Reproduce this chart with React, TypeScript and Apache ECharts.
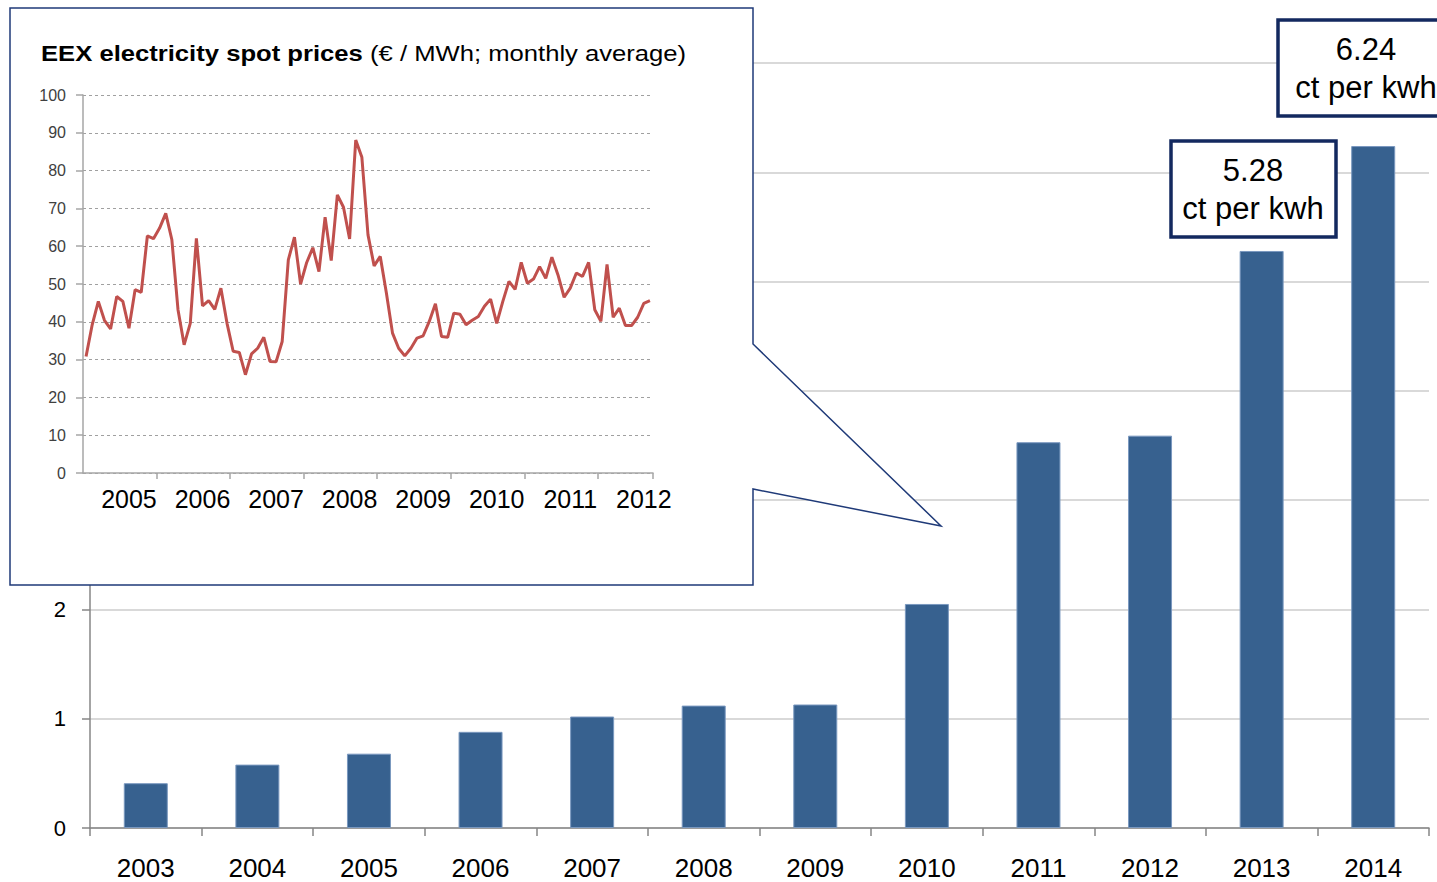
import React, { useEffect, useRef } from "react";
import * as echarts from "echarts";

// ---- main chart data (EEG surcharge, ct per kWh) ----
const years = ["2003", "2004", "2005", "2006", "2007", "2008", "2009", "2010", "2011", "2012", "2013", "2014"];
const surcharge = [0.41, 0.58, 0.68, 0.88, 1.02, 1.12, 1.13, 2.05, 3.53, 3.59, 5.28, 6.24];
const mainYMin = 0;
const mainYMax = 7;
const mainYStep = 1;
const mainYLabelMax = 2; // labels above this sit behind the inset in the reference

// ---- inset data (EEX spot prices, EUR/MWh, monthly average) ----
const spotYears = ["2005", "2006", "2007", "2008", "2009", "2010", "2011", "2012"];
const spot2005 = [30.8, 39.2, 45.4, 40.4, 38.1, 46.7, 45.4, 38.3, 48.5, 47.8, 62.7, 62.0];
const spot2006 = [64.8, 68.7, 61.7, 43.2, 33.9, 39.6, 62.1, 44.2, 45.6, 43.3, 48.9, 39.6];
const spot2007 = [32.2, 31.9, 26.0, 31.5, 33.0, 35.9, 29.5, 29.4, 34.8, 56.4, 62.4, 50.0];
const spot2008 = [55.7, 59.6, 53.3, 67.7, 56.2, 73.6, 70.3, 61.9, 88.1, 83.5, 63.0, 54.8];
const spot2009 = [57.3, 47.6, 37.0, 33.0, 31.0, 33.0, 35.7, 36.3, 40.1, 44.8, 36.1, 35.9];
const spot2010 = [42.3, 42.0, 39.2, 40.4, 41.4, 44.1, 46.0, 39.6, 45.4, 50.7, 48.6, 55.7];
const spot2011 = [50.2, 51.3, 54.6, 51.5, 57.1, 52.4, 46.5, 48.9, 52.9, 52.0, 55.7, 43.2];
const spot2012 = [40.1, 55.2, 41.2, 43.6, 39.0, 39.0, 41.2, 44.9, 45.6];
const spotYMin = 0;
const spotYMax = 100;
const spotYStep = 10;

const spotByYear = [spot2005, spot2006, spot2007, spot2008, spot2009, spot2010, spot2011, spot2012];
const spotMonths = spotByYear.flatMap((arr, k) =>
  arr.map((_, m) => `${spotYears[k]}-${String(m + 1).padStart(2, "0")}`)
);
const spotValues = spotByYear.flat();

const FONT = "'Liberation Sans', Arial, sans-serif";
const NAVY = "#13295f";

export default function App() {
  const ref = useRef<HTMLDivElement>(null);

  useEffect(() => {
    if (!ref.current) return;
    const chart = echarts.init(ref.current, undefined, { renderer: "svg" });

    const option: any = {
      animation: false,
      backgroundColor: "#ffffff",
      grid: [
        { left: 90, right: 8, top: 63, bottom: 54 },
        { left: 83, top: 95, width: 570, height: 378 },
      ],
      xAxis: [
        {
          type: "category",
          gridIndex: 0,
          data: years,
          boundaryGap: true,
          axisLine: { show: true, lineStyle: { color: "#868686", width: 1.5 } },
          axisTick: { show: true, interval: 0, length: 8, lineStyle: { color: "#868686", width: 1.5 } },
          axisLabel: { interval: 0, color: "#000", fontSize: 26, fontFamily: FONT, margin: 27 },
          splitLine: { show: false },
          z: 0,
        },
        {
          type: "category",
          gridIndex: 1,
          data: spotMonths,
          boundaryGap: true,
          axisLine: { show: true, lineStyle: { color: "#a6a6a6", width: 1.5 } },
          axisTick: {
            show: true,
            length: 6,
            interval: (i: number) => i % 12 === 0 && i > 0,
            lineStyle: { color: "#a6a6a6", width: 1.5 },
          },
          axisLabel: {
            interval: (i: number) => i % 12 === 7,
            formatter: (v: string) => v.slice(0, 4),
            color: "#000",
            fontSize: 25,
            fontFamily: FONT,
            margin: 13,
          },
          splitLine: { show: false },
          z: 10,
        },
      ],
      yAxis: [
        {
          type: "value",
          gridIndex: 0,
          min: mainYMin,
          max: mainYMax,
          interval: mainYStep,
          axisLine: { show: true, lineStyle: { color: "#868686", width: 1.5 } },
          axisTick: { show: true, length: 8, lineStyle: { color: "#868686", width: 1.5 } },
          axisLabel: {
            color: "#000",
            fontSize: 22,
            fontFamily: FONT,
            margin: 24,
            formatter: (v: number) => (v <= mainYLabelMax ? String(v) : ""),
          },
          splitLine: { show: true, lineStyle: { color: "#d9d9d9", width: 2 } },
          z: 0,
        },
        {
          type: "value",
          gridIndex: 1,
          min: spotYMin,
          max: spotYMax,
          interval: spotYStep,
          axisLine: { show: true, lineStyle: { color: "#a6a6a6", width: 1.5 } },
          axisTick: { show: true, length: 7, lineStyle: { color: "#a6a6a6", width: 1.5 } },
          axisLabel: { color: "#404040", fontSize: 16, fontFamily: FONT, margin: 17 },
          splitLine: { show: true, lineStyle: { color: "#a0a0a0", width: 1, type: [3, 3] } },
          z: 10,
        },
      ],
      series: [
        {
          type: "bar",
          xAxisIndex: 0,
          yAxisIndex: 0,
          data: surcharge,
          barWidth: 44,
          itemStyle: { color: "#37618f", borderColor: "#7a98bf", borderWidth: 1 },
          z: 2,
        },
        {
          type: "line",
          xAxisIndex: 1,
          yAxisIndex: 1,
          data: spotValues,
          showSymbol: false,
          symbol: "none",
          lineStyle: { color: "#c0504d", width: 3 },
          z: 12,
        },
      ],
      graphic: [
        {
          type: "polygon",
          z: 5,
          shape: {
            points: [
              [10, 8],
              [753, 8],
              [753, 344],
              [941, 526],
              [753, 489],
              [753, 585],
              [10, 585],
            ],
          },
          style: { fill: "#ffffff", stroke: "#1f3a78", lineWidth: 1.5 },
        },
        {
          type: "text",
          z: 20,
          x: 41,
          y: 53,
          scaleX: 1.165,
          style: {
            text: "{b|EEX electricity spot prices} (€ / MWh; monthly average)",
            fontSize: 22,
            fontFamily: FONT,
            fill: "#000",
            verticalAlign: "middle",
            rich: {
              b: { fontSize: 22, fontWeight: "bold", fontFamily: FONT, fill: "#000" },
            },
          },
        },
        {
          type: "rect",
          z: 20,
          shape: { x: 1278, y: 20, width: 185, height: 96 },
          style: { fill: "#ffffff", stroke: NAVY, lineWidth: 3.5 },
        },
        {
          type: "text",
          z: 21,
          x: 1366,
          y: 68,
          style: {
            text: `${surcharge[11].toFixed(2)}\nct per kwh`,
            align: "center",
            verticalAlign: "middle",
            fontSize: 31,
            lineHeight: 38,
            fontFamily: FONT,
            fill: "#000",
          },
        },
        {
          type: "rect",
          z: 20,
          shape: { x: 1171, y: 141, width: 165, height: 96 },
          style: { fill: "#ffffff", stroke: NAVY, lineWidth: 3.5 },
        },
        {
          type: "text",
          z: 21,
          x: 1253,
          y: 189,
          style: {
            text: `${surcharge[10].toFixed(2)}\nct per kwh`,
            align: "center",
            verticalAlign: "middle",
            fontSize: 31,
            lineHeight: 38,
            fontFamily: FONT,
            fill: "#000",
          },
        },
      ],
    };

    chart.setOption(option);
    return () => chart.dispose();
  }, []);

  return (
    <div
      ref={ref}
      style={{ position: "fixed", left: 0, top: 0, width: 1437, height: 882, background: "#fff" }}
    />
  );
}
